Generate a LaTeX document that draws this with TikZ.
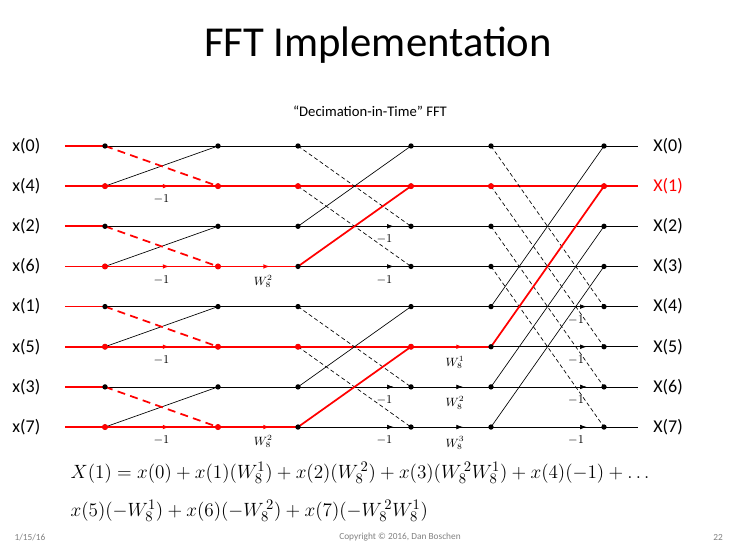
\documentclass[tikz,border=0pt]{standalone}
\usepackage{fontspec}
\setmainfont{Carlito}
\usetikzlibrary{arrows.meta,calc}
\begin{document}
\begin{tikzpicture}[x=0.75pt,y=-0.75pt,
  blk/.style={black,line width=0.5pt},
  red/.style={color=red,line width=1.3pt},
  dsh/.style={dashed,dash pattern=on 3pt off 2pt},
  rdsh/.style={dashed,dash pattern=on 6pt off 4pt},
  dot/.style={circle,fill=black,inner sep=0pt,minimum size=4pt},
  rdot/.style={circle,fill=red,inner sep=0pt,minimum size=4.5pt},
  lab/.style={font=\fontsize{13.5}{15}\selectfont},
  wl/.style={font=\fontsize{9}{10}\selectfont,inner sep=1pt},
  ar/.style={-{Latex[length=5pt,width=3.5pt]},line width=0.5pt},
  rar/.style={-{Latex[length=5pt,width=3.5pt]},color=red,line width=1pt}]
\useasboundingbox (0,0) rectangle (738,555);
\node[font=\fontsize{32}{36}\selectfont] (title) at (378,45) {FFT Implementation};
\node[font=\fontsize{11}{13}\selectfont] (sub) at (370,111) {“Decimation-in-Time” FFT};
% coordinates
\foreach \c/\xx in {0/65,1/105,2/218,3/298,4/411,5/491,6/604,7/638}{
  \foreach \r in {0,...,7}{
    \coordinate (n\c-\r) at (\xx,146+40.15*\r);
  }}
% black row lines
\foreach \r in {0,...,7}{\draw[blk] (n0-\r) -- (n7-\r);}
% labels
\foreach \r/\t in {0/0,1/4,2/2,3/6,4/1,5/5,6/3,7/7}{
  \node[lab,anchor=east] (in\r) at ([xshift=-15pt]n0-\r) {x(\t)};}
\foreach \r in {0,2,3,4,5,6,7}{
  \node[lab,anchor=west] (out\r) at ([xshift=8pt]n7-\r) {X(\r)};}
\node[lab,anchor=west,text=red] (out1) at ([xshift=8pt]n7-1) {X(1)};
% stage 1
\foreach \a/\b in {0/1,2/3,4/5,6/7}{
  \draw[blk] (n1-\b) -- (n2-\a);
  \draw[red,rdsh] (n1-\a) -- (n2-\b);
  \draw[red] (n0-\a) -- (n1-\a);
  \draw[red] (n0-\b) -- (n2-\b);
  \draw[rar] ([xshift=-12]$(n1-\b)!0.5!(n2-\b)$) -- ([xshift=6]$(n1-\b)!0.5!(n2-\b)$);
  \node[wl] at ([yshift=-10]$(n1-\b)!0.5!(n2-\b)$) {$-1$};
}
% between 2 and 3
\foreach \r in {3,7}{
  \draw[red] (n2-\r) -- (n3-\r);
  \draw[rar] ([xshift=-12]$(n2-\r)!0.55!(n3-\r)$) -- ([xshift=6]$(n2-\r)!0.55!(n3-\r)$);
  \node[wl] at ([xshift=4,yshift=-11]$(n2-\r)!0.5!(n3-\r)$) {$W_8^2$};
}
\foreach \r in {1,5}{\draw[red] (n2-\r) -- (n4-\r);}
% stage 2
\foreach \a/\b in {0/2,1/3,4/6,5/7}{
  \draw[blk,dsh] (n3-\a) -- (n4-\b);
  \draw[ar] ([xshift=-10]$(n3-\b)!0.8!(n4-\b)$) -- ([xshift=4]$(n3-\b)!0.8!(n4-\b)$);
  \node[wl] at ([xshift=-3,yshift=-10]$(n3-\b)!0.8!(n4-\b)$) {$-1$};
}
\draw[blk] (n3-2) -- (n4-0);
\draw[blk] (n3-6) -- (n4-4);
\draw[red] (n3-3) -- (n4-1);
\draw[red] (n3-7) -- (n4-5);
% between 4 and 5
\draw[red] (n4-1) -- (n7-1);
\draw[red] (n4-5) -- (n5-5);
\draw[rar] ([xshift=-12]$(n4-5)!0.55!(n5-5)$) -- ([xshift=6]$(n4-5)!0.55!(n5-5)$);
\node[wl] at ([yshift=-12]$(n4-5)!0.55!(n5-5)$) {$W_8^1$};
\foreach \r/\k in {6/2,7/3}{
  \draw[ar] ([xshift=-12]$(n4-\r)!0.55!(n5-\r)$) -- ([xshift=6]$(n4-\r)!0.55!(n5-\r)$);
  \node[wl] at ([yshift=-12]$(n4-\r)!0.55!(n5-\r)$) {$W_8^\k$};
}
% stage 3
\foreach \a/\b in {0/4,1/5,2/6,3/7}{
  \draw[blk,dsh] (n5-\a) -- (n6-\b);
  \draw[ar] ([xshift=-10]$(n5-\b)!0.8!(n6-\b)$) -- ([xshift=4]$(n5-\b)!0.8!(n6-\b)$);
  \node[wl] at ([xshift=-4,yshift=-10]$(n5-\b)!0.8!(n6-\b)$) {$-1$};
}
\draw[blk] (n5-4) -- (n6-0);
\draw[red] (n5-5) -- (n6-1);
\draw[blk] (n5-6) -- (n6-2);
\draw[blk] (n5-7) -- (n6-3);
% dots
\foreach \c in {1,...,6}{\foreach \r in {0,...,7}{\node[dot] at (n\c-\r) {};}}
\foreach \c/\r in {1/1,2/1,3/1,4/1,5/1,6/1,1/3,2/3,1/5,2/5,3/5,4/5,1/7,2/7}{\node[rdot] at (n\c-\r) {};}
% equations
\node[anchor=west,font=\fontsize{15.5}{18}\selectfont] (eq1) at (66,473) {$X(1)=x(0)+x(1)(W_8^1)+x(2)(W_8^{\,2})+x(3)(W_8^{\,2}W_8^1)+x(4)(-1)+\ldots$};
\node[anchor=west,font=\fontsize{15.5}{18}\selectfont] (eq2) at (66,511) {$x(5)(-W_8^1)+x(6)(-W_8^{\,2})+x(7)(-W_8^{\,2}W_8^1)$};
% footer
\node[text=gray,font=\fontsize{7}{8}\selectfont] (f1) at (30,537) {1/15/16};
\node[text=gray,font=\fontsize{7}{8}\selectfont] (f2) at (400,537) {Copyright © 2016, Dan Boschen};
\node[text=gray,font=\fontsize{7}{8}\selectfont] (f3) at (718,537) {22};
\end{tikzpicture}
\end{document}
